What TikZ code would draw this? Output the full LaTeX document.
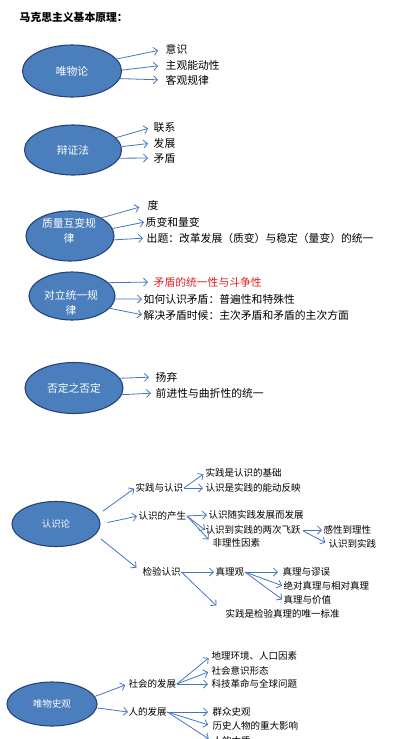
\documentclass[tikz,border=0pt]{standalone}
\usepackage{fontspec}
\setmainfont{Noto Sans CJK SC}
\usetikzlibrary{arrows.meta,shapes.geometric}
\definecolor{ellfill}{RGB}{74,126,189}
\definecolor{elldraw}{RGB}{38,68,120}
\definecolor{arr}{RGB}{70,118,190}
\definecolor{redtxt}{RGB}{228,30,30}
\begin{document}
\begin{tikzpicture}[x=1pt,y=-1pt,
  ell/.style={ellipse, draw=elldraw, line width=1.1pt, fill=ellfill, inner sep=0pt, text=white, font=\fontsize{10.8}{13}\selectfont},
  sell/.style={ell, font=\fontsize{9.4}{12}\selectfont},
  etext/.style={text=white, font=\fontsize{10.8}{15}\selectfont, align=center, inner sep=0pt},
  lbl/.style={anchor=west, inner sep=0.5pt, font=\fontsize{10.8}{12}\selectfont},
  slbl/.style={anchor=west, inner sep=0.5pt, font=\fontsize{9.5}{11}\selectfont},
  conn/.style={draw=arr, line width=0.8pt, -{Straight Barb[length=4pt,width=8pt]}}
]
\useasboundingbox (0,0) rectangle (410,739);
\clip (0,0) rectangle (410,739);
\fill[white] (0,0) rectangle (410,739);

% title
\node[lbl, font=\fontsize{10.8}{12}\selectfont\bfseries] (title) at (19,17) {马克思主义基本原理：};

% section 1
\node[ell, minimum width=99pt, minimum height=52pt] (e1) at (72,71) {唯物论};
\node[lbl] (a1) at (165,49) {意识};
\node[lbl] (a2) at (165,65) {主观能动性};
\node[lbl] (a3) at (165,80) {客观规律};
\draw[conn, shorten >=7pt] (e1.15) -- (a1.west);
\draw[conn, shorten >=7pt] (e1.1) -- (a2.west);
\draw[conn, shorten >=7pt] (e1.-9) -- (a3.west);

% section 2
\node[ell, minimum width=97pt, minimum height=50pt] (e2) at (73,150) {辩证法};
\node[lbl] (b1) at (153,127) {联系};
\node[lbl] (b2) at (153,143) {发展};
\node[lbl] (b3) at (153,158) {矛盾};
\draw[conn, shorten >=5pt] (e2.16) -- (b1.west);
\draw[conn, shorten >=5pt] (e2.4) -- (b2.west);
\draw[conn, shorten >=5pt] (e2.-10) -- (b3.west);

% section 3
\node[ell, minimum width=88pt, minimum height=50pt] (e3) at (70,236) {};
\node[etext] (e3t) at (69,231) {质量互变规\\律};
\node[lbl] (c1) at (147,205) {度};
\node[lbl] (c2) at (145,222) {质变和量变};
\node[lbl] (c3) at (146,238) {出题：改革发展（质变）与稳定（量变）的统一};
\draw[conn, shorten >=8pt] (e3.30) -- (c1.west);
\draw[conn, shorten >=1pt] (e3.10) -- (c2.west);
\draw[conn, shorten >=3pt] (e3.-5) -- (c3.west);

% section 4
\node[ell, minimum width=86pt, minimum height=48pt] (e4) at (72,296) {};
\node[etext] (e4t) at (71,303) {对立统一规\\律};
\node[lbl, text=redtxt] (d1) at (153,282) {矛盾的统一性与斗争性};
\node[lbl] (d2) at (143,299) {如何认识矛盾：普遍性和特殊性};
\node[lbl] (d3) at (143,315) {解决矛盾时候：主次矛盾和矛盾的主次方面};
\draw[conn, shorten >=5pt] (e4.20) -- (d1.west);
\draw[conn, shorten >=1pt] (e4.-4) -- (d2.west);
\draw[conn, shorten >=1pt] (e4.-18) -- (d3.west);

% section 5
\node[ell, minimum width=98pt, minimum height=51pt] (e5) at (74,388) {否定之否定};
\node[lbl] (f1) at (155,377) {扬弃};
\node[lbl] (f2) at (155,393) {前进性与曲折性的统一};
\draw[conn, shorten >=6pt] (e5.12) -- (f1.west);
\draw[conn, shorten >=4pt] (e5.-8) -- (f2.west);

% section 6
\node[sell, minimum width=88pt, minimum height=45pt] (e6) at (56,524) {认识论};
\node[slbl] (g1) at (135,488) {实践与认识};
\node[slbl] (g2) at (138,516) {认识的产生};
\node[slbl] (g3) at (142,572) {检验认识};
\draw[conn, shorten <=7pt, shorten >=1pt] (e6.12) -- (g1.west);
\draw[conn, shorten <=7pt, shorten >=1pt] (e6.0) -- (g2.west);
\draw[conn, shorten <=7pt, shorten >=7pt] (e6.-15) -- (g3.west);

\node[slbl] (h1) at (205,473) {实践是认识的基础};
\node[slbl] (h2) at (205,488) {认识是实践的能动反映};
\draw[conn, shorten >=2pt] (g1.east) -- (h1.west);
\draw[conn, shorten >=2pt] (g1.east) -- (h2.west);

\node[slbl] (i1) at (208,515) {认识随实践发展而发展};
\node[slbl] (i2) at (205,530) {认识到实践的两次飞跃};
\node[slbl] (i3) at (212,543) {非理性因素};
\draw[conn, shorten >=1pt] (g2.east) -- (i1.west);
\draw[conn, shorten >=0pt] (g2.east) -- (i2.west);
\draw[conn, shorten >=5pt] (g2.east) -- (i3.west);

\node[slbl] (j1) at (323,530) {感性到理性};
\node[slbl] (j2) at (328,544) {认识到实践};
\draw[conn, shorten <=2pt, shorten >=1pt] (i2.east) -- (j1.west);
\draw[conn, shorten <=2pt, shorten >=3pt] (i2.east) -- (j2.west);

\node[slbl] (k1) at (215,572) {真理观};
\node[slbl] (k2) at (225,614) {实践是检验真理的唯一标准};
\draw[conn, shorten >=1pt] (g3.east) -- (k1.west);
\draw[conn, shorten >=12pt] (g3.east) -- (k2.west);

\node[slbl] (l1) at (282,572) {真理与谬误};
\node[slbl] (l2) at (283,586) {绝对真理与相对真理};
\node[slbl] (l3) at (283,600) {真理与价值};
\draw[conn, shorten >=4pt] (k1.east) -- (l1.west);
\draw[conn, shorten >=1pt] (k1.east) -- (l2.west);
\draw[conn, shorten >=1pt] (k1.east) -- (l3.west);

% section 7
\node[sell, minimum width=90pt, minimum height=44pt] (e7) at (52,704) {唯物史观};
\node[slbl] (m1) at (128,684) {社会的发展};
\node[slbl] (m2) at (128,712) {人的发展};
\draw[conn, shorten >=3pt] (e7.10) -- (m1.west);
\draw[conn, shorten >=0pt] (e7.-5) -- (m2.west);

\node[slbl] (n1) at (211,656) {地理环境、人口因素};
\node[slbl] (n2) at (211,671) {社会意识形态};
\node[slbl] (n3) at (211,684) {科技革命与全球问题};
\draw[conn, shorten >=3pt] (m1.east) -- (n1.west);
\draw[conn, shorten >=3pt] (m1.east) -- (n2.west);
\draw[conn, shorten >=3pt] (m1.east) -- (n3.west);

\node[slbl] (o1) at (212,712) {群众史观};
\node[slbl] (o2) at (212,726) {历史人物的重大影响};
\node[slbl] (o3) at (212,741) {人的本质};
\draw[conn, shorten >=4pt] (m2.east) -- (o1.west);
\draw[conn, shorten >=4pt] (m2.east) -- (o2.west);
\draw[conn, shorten >=4pt] (m2.east) -- (o3.west);
\end{tikzpicture}
\end{document}
